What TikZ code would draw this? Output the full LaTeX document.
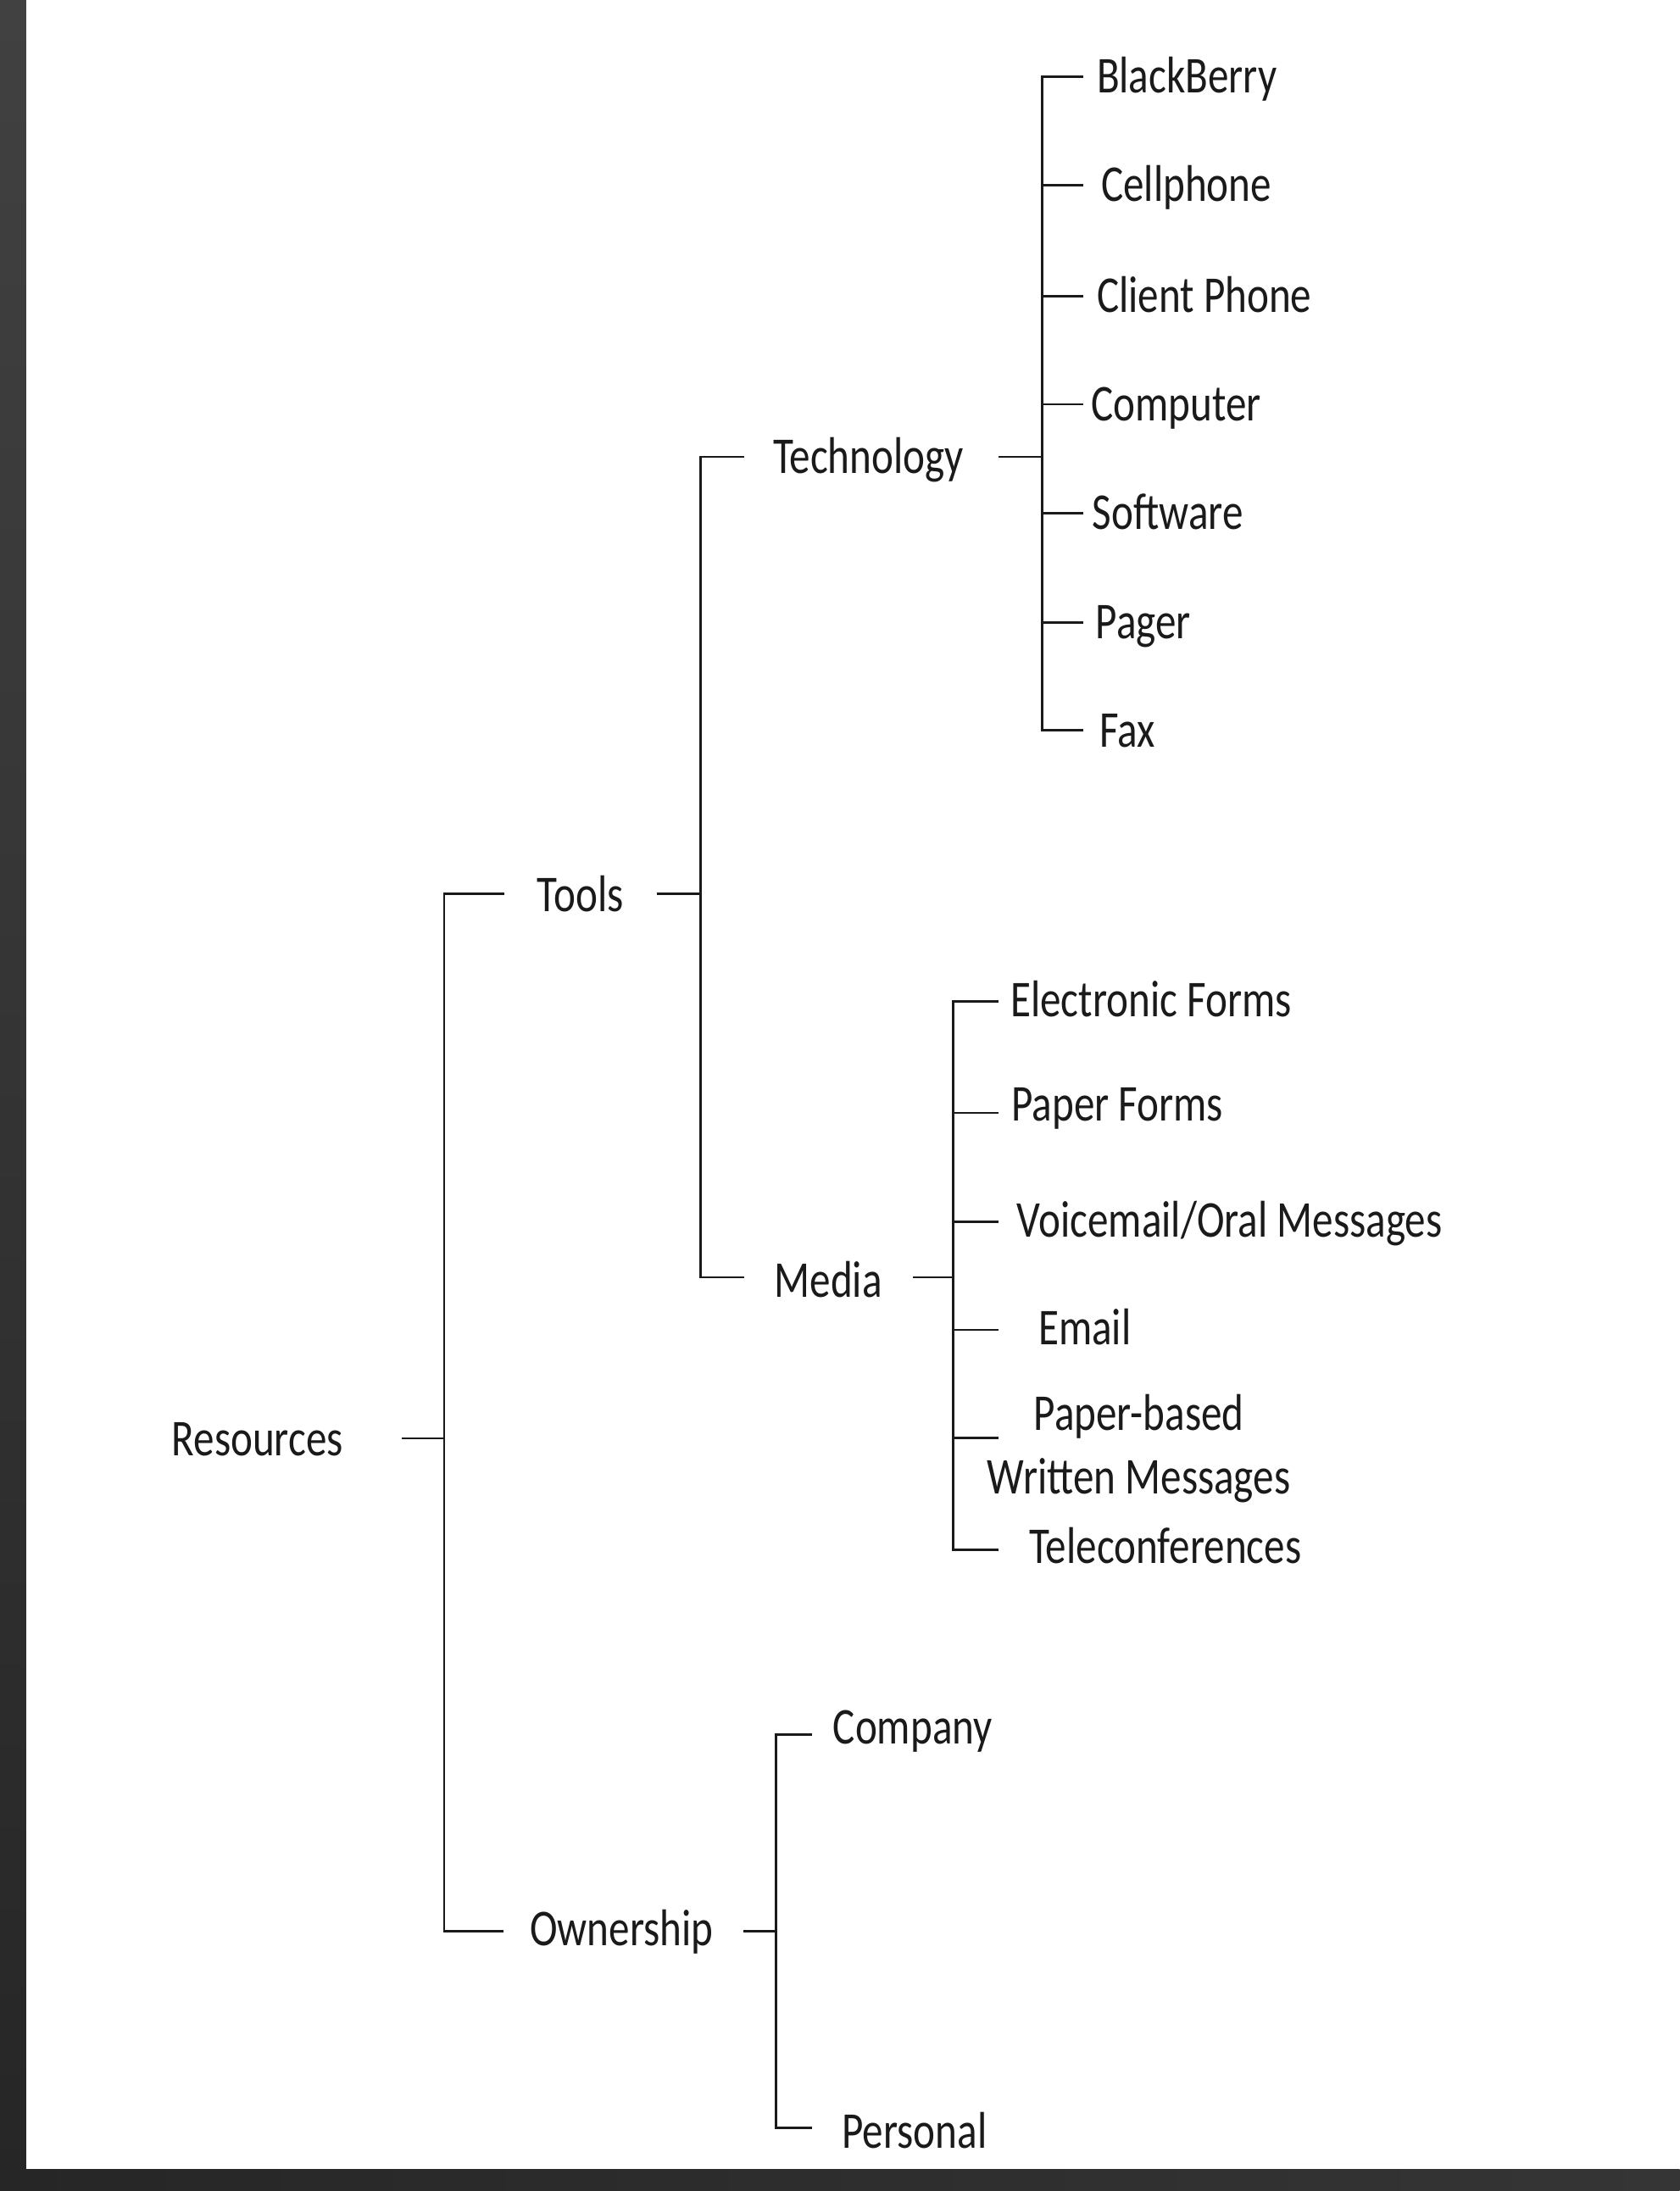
\documentclass[tikz,border=0pt]{standalone}
\usepackage{fontspec}
\setmainfont{Carlito}
\definecolor{bandtop}{HTML}{414141}
\definecolor{bandbot}{HTML}{262626}
\definecolor{bandright}{HTML}{353535}
\definecolor{ink}{HTML}{1A1A1A}
\newcommand\sx[1]{\scalebox{1}[1.24]{#1}}
\begin{document}
\begin{tikzpicture}[x=1pt,y=-1pt,
  lbl/.style={anchor=base west,inner sep=0pt,font=\fontsize{29.8}{45.8}\selectfont,text=ink},
  conn/.style={line width=1.6pt,draw=ink}]
\useasboundingbox (0,0) rectangle (1202,1568);
\fill[white] (0,0) rectangle (1202,1568);
\shade[top color=bandtop,bottom color=bandbot] (0,0) rectangle (18.8,1568);
\shade[left color=bandbot,right color=bandright] (0,1552.5) rectangle (1202,1568);

% ---- Resources
\node[lbl] (res) at (122.8,1041.9) {\sx{Resources}};
\coordinate (resOut) at (287.7,1029.4);
\coordinate (brA) at (317.8,1029.4);
\coordinate (brAtop) at (317.8,639.6);
\coordinate (brAbot) at (317.8,1381.9);
\coordinate (toolsIn) at (360.8,639.6);
\coordinate (ownIn) at (360.5,1381.9);
\draw[conn] (resOut) -- (brA);
\draw[conn] (toolsIn) -- (brAtop) -- (brAbot) -- (ownIn);

% ---- Tools
\node[lbl] (tools) at (384.3,652.2) {\sx{Tools}};
\coordinate (toolsOut) at (470,639.6);
\coordinate (brB) at (501.5,639.6);
\coordinate (brBtop) at (501.5,327);
\coordinate (brBbot) at (501.5,914);
\coordinate (techIn) at (532.5,327);
\coordinate (mediaIn) at (532.8,914);
\draw[conn] (toolsOut) -- (brB);
\draw[conn] (techIn) -- (brBtop) -- (brBbot) -- (mediaIn);

% ---- Technology
\node[lbl] (tech) at (553,338.8) {\sx{Technology}};
\coordinate (techOut) at (714.7,327);
\coordinate (brC) at (745.7,327);
\draw[conn] (techOut) -- (brC);
\foreach \y/\x/\t [count=\i] in {54.8/784.7/BlackBerry, 132.4/787.8/Cellphone, 212/784.7/Client Phone, 289.3/780.6/Computer, 367.3/781.5/Software, 445.5/784/Pager, 522.6/786.9/Fax}{
  \node[lbl] (tleaf\i) at (\x,\y+11.8) {\sx{\t}};
  \coordinate (tstub\i) at (775.4,\y);
  \coordinate (tj\i) at (745.7,\y);
}
\draw[conn] (tstub1) -- (tj1) -- (tj7) -- (tstub7);
\foreach \i in {2,...,6}{\draw[conn] (tj\i) -- (tstub\i);}

% ---- Media
\node[lbl] (media) at (554,928.2) {\sx{Media}};
\coordinate (mediaOut) at (653.5,914);
\coordinate (brD) at (682,914);
\draw[conn] (mediaOut) -- (brD);
\foreach \y [count=\i] in {716.5,796.4,874.4,951.7,1029.1,1109}{
  \coordinate (mj\i) at (682,\y);
  \coordinate (mstub\i) at (714.7,\y);
}
\draw[conn] (mstub1) -- (mj1) -- (mj6) -- (mstub6);
\foreach \i in {2,...,5}{\draw[conn] (mj\i) -- (mstub\i);}
\node[lbl] (m1) at (722.9,727.4) {\sx{Electronic Forms}};
\node[lbl] (m2) at (723.7,802.3) {\sx{Paper Forms}};
\node[lbl] (m3) at (727.5,885.2) {\sx{Voicemail/Oral Messages}};
\node[lbl] (m4) at (742.9,962.4) {\sx{Email}};
\node[lbl,anchor=base,align=center] (m5) at (815,1069.3) {\sx{Paper-based}\\\sx{Written Messages}};
\node[lbl] (m6) at (736.4,1118.9) {\sx{Teleconferences}};

% ---- Ownership
\node[lbl] (own) at (379,1392.4) {\sx{Ownership}};
\coordinate (ownOut) at (532.2,1381.9);
\coordinate (brE) at (555.4,1381.9);
\coordinate (brEtop) at (555.4,1241.5);
\coordinate (brEbot) at (555.4,1522.6);
\coordinate (compIn) at (580.8,1241.5);
\coordinate (persIn) at (580.8,1522.6);
\draw[conn] (ownOut) -- (brE);
\draw[conn] (compIn) -- (brEtop) -- (brEbot) -- (persIn);
\node[lbl] (comp) at (596,1248.3) {\sx{Company}};
\node[lbl] (pers) at (602.4,1537.3) {\sx{Personal}};
\end{tikzpicture}
\end{document}
